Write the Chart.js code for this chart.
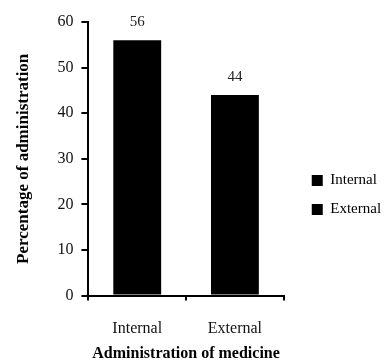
<!DOCTYPE html>
<html>
<head>
<meta charset="utf-8">
<script src="https://cdn.jsdelivr.net/npm/chart.js@4/dist/chart.umd.min.js"></script>
<style>
  html, body { margin: 0; padding: 0; background: #fff; }
  #wrap { width: 390px; height: 360px; }
</style>
</head>
<body>
<div id="wrap"><canvas id="c" width="390" height="360"></canvas></div>
<script>
// Route of administration and the share of remedies using it (%)
const categories = ['Internal', 'External'];
const percentages = [56, 44];
const yTicks = [0, 10, 20, 30, 40, 50, 60];

const serif = '"Liberation Serif", "Times New Roman", serif';

// Prints each bar's value just above it
const valueLabels = {
  id: 'valueLabels',
  afterDatasetsDraw(chart) {
    const ctx = chart.ctx;
    const meta = chart.getDatasetMeta(0);
    ctx.save();
    ctx.font = '15px ' + serif;
    ctx.fillStyle = '#222';
    ctx.textAlign = 'center';
    ctx.textBaseline = 'middle';
    meta.data.forEach((bar, i) => {
      ctx.fillText(String(percentages[i]), bar.x, bar.y - 18);
    });
    ctx.restore();
  }
};

// Leaves some white space between the plot and the legend
const legendGap = {
  id: 'legendGap',
  afterLayout(chart) {
    const lg = chart.legend;
    if (lg) {
      lg.left += 14;
      lg.right += 14;
      lg.top += 4;
      lg.bottom += 4;
    }
  }
};

new Chart(document.getElementById('c'), {
  type: 'bar',
  data: {
    labels: categories,
    datasets: [{
      data: percentages,
      backgroundColor: '#000',
      borderWidth: 0,
      categoryPercentage: 1,
      barPercentage: 0.49
    }]
  },
  options: {
    responsive: false,
    animation: false,
    devicePixelRatio: 1,
    layout: { padding: { top: 22, right: 16, bottom: 0, left: 13 } },
    plugins: {
      tooltip: { enabled: false },
      legend: {
        position: 'right',
        align: 'center',
        labels: {
          boxWidth: 11,
          boxHeight: 11,
          padding: 14,
          color: '#000',
          font: { family: serif, size: 15 },
          generateLabels(chart) {
            return categories.map((c, i) => ({
              text: c,
              fillStyle: '#000',
              strokeStyle: '#000',
              lineWidth: 0,
              hidden: false,
              index: i,
              datasetIndex: 0
            }));
          }
        }
      }
    },
    scales: {
      x: {
        grid: {
          display: true,
          offset: true,
          drawOnChartArea: false,
          drawTicks: true,
          tickLength: 5,
          color: '#000',
          lineWidth: 2
        },
        border: { display: true, color: '#000', width: 2 },
        ticks: {
          color: '#111',
          padding: 19,
          font: { family: serif, size: 16 }
        },
        title: {
          display: true,
          text: 'Administration of medicine',
          color: '#000',
          padding: { top: -14, bottom: -3 },
          font: { family: serif, size: 16, weight: 'bold' }
        }
      },
      y: {
        min: 0,
        max: 60,
        afterBuildTicks(scale) {
          scale.ticks = yTicks.map(v => ({ value: v }));
        },
        grid: {
          display: true,
          drawOnChartArea: false,
          drawTicks: true,
          tickLength: 7,
          color: '#000',
          lineWidth: 2
        },
        border: { display: true, color: '#000', width: 2 },
        ticks: {
          color: '#111',
          padding: 8,
          font: { family: serif, size: 16 }
        },
        title: {
          display: true,
          text: 'Percentage of administration',
          color: '#000',
          padding: { top: 0, bottom: 16 },
          font: { family: serif, size: 17, weight: 'bold' }
        }
      }
    }
  },
  plugins: [valueLabels, legendGap]
});
</script>
</body>
</html>
